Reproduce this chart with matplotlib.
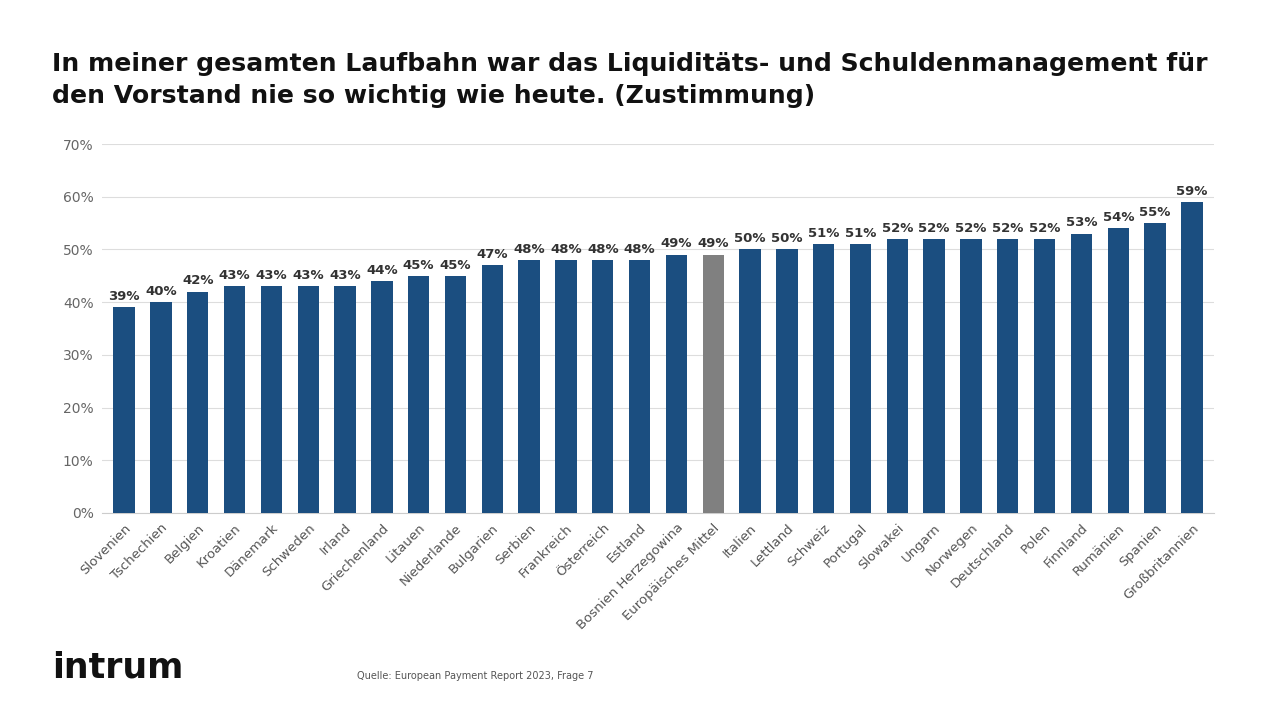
import matplotlib
matplotlib.use("Agg")
import matplotlib.pyplot as plt

countries = ["Slovenien","Tschechien","Belgien","Kroatien","Dänemark","Schweden","Irland","Griechenland","Litauen","Niederlande","Bulgarien","Serbien","Frankreich","Österreich","Estland","Bosnien Herzegowina","Europäisches Mittel","Italien","Lettland","Schweiz","Portugal","Slowakei","Ungarn","Norwegen","Deutschland","Polen","Finnland","Rumänien","Spanien","Großbritannien"]
values = [39,40,42,43,43,43,43,44,45,45,47,48,48,48,48,49,49,50,50,51,51,52,52,52,52,52,53,54,55,59]
highlight = "Europäisches Mittel"
yticks = [0,10,20,30,40,50,60,70]

plt.rcParams['font.family'] = ['DejaVu Sans']
fig = plt.figure(figsize=(12.8,7.2), dpi=100)
ax = fig.add_axes([102/1280, 1-513/720, 1112/1280, 369/720])
colors = ["#808080" if c == highlight else "#1b4e80" for c in countries]
x = range(len(countries))
ax.bar(x, values, width=0.58, color=colors, zorder=3)
for i, v in zip(x, values):
    ax.text(i, v+0.8, f"{v}%", ha="center", va="bottom", fontsize=9.5, fontweight="bold", color="#333333")
ax.set_ylim(0,70)
ax.set_xlim(-0.6, len(countries)-0.4)
ax.set_yticks(yticks)
ax.set_yticklabels([f"{t}%" for t in yticks], color="#666666", fontsize=10)
ax.set_xticks(list(x))
ax.set_xticklabels(countries, rotation=45, ha="right", rotation_mode="anchor", fontsize=9.5, color="#555555")
ax.grid(axis="y", color="#dddddd", linewidth=0.8, zorder=0)
for s in ["top","right","left"]:
    ax.spines[s].set_visible(False)
ax.spines["bottom"].set_color("#cccccc")
ax.tick_params(length=0, pad=6)
fig.text(52/1280, 1-80/720, "In meiner gesamten Laufbahn war das Liquiditäts- und Schuldenmanagement für\nden Vorstand nie so wichtig wie heute. (Zustimmung)",
         fontsize=18.1, fontweight="bold", va="center", ha="left", color="#111111", linespacing=1.4)
fig.text(52/1280, 1-667/720, "intrum", fontsize=25, fontweight="bold", va="center", ha="left", color="#111111")
fig.text(357/1280, 1-676/720, "Quelle: European Payment Report 2023, Frage 7", fontsize=7, va="center", ha="left", color="#555555")
fig.savefig("out.png", dpi=100)
